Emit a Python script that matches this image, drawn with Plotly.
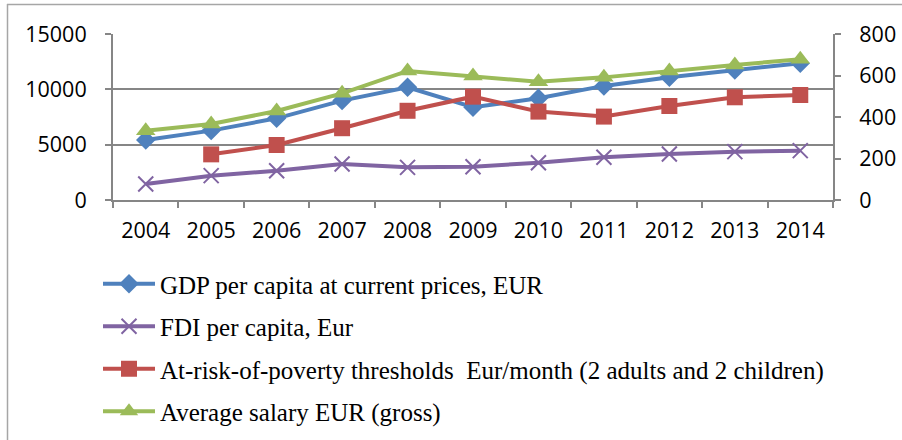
import plotly.graph_objects as go

years = ["2004", "2005", "2006", "2007", "2008", "2009", "2010", "2011", "2012", "2013", "2014"]
gdp = [5420, 6270, 7380, 8980, 10190, 8380, 9190, 10310, 11090, 11750, 12360]
fdi = [1450, 2200, 2650, 3250, 2950, 3010, 3370, 3860, 4160, 4370, 4460]
poverty = [None, 220, 265, 346, 430, 498, 426, 402, 453, 495, 506]
salary = [334, 366, 429, 514, 622, 598, 570, 591, 622, 651, 678]

names = [
    "GDP per capita at current prices, EUR",
    "FDI per capita, Eur",
    "At-risk-of-poverty thresholds  Eur/month (2 adults and 2 children)",
    "Average salary EUR (gross)",
]

W, H = 902, 440
L, R, T, B = 113, 833, 34, 200

fig = go.Figure()
fig.add_trace(go.Scatter(x=years, y=gdp, name=names[0], mode="lines+markers", legendgroup="a",
                         line=dict(color="#4F81BD", width=4),
                         marker=dict(symbol="diamond", size=15, color="#4F81BD")))
fig.add_trace(go.Scatter(x=years, y=fdi, name=names[1], mode="lines+markers", legendgroup="b",
                         line=dict(color="#8064A2", width=4),
                         marker=dict(symbol="x-thin", size=15, color="#8064A2",
                                     line=dict(color="#8064A2", width=2))))
fig.add_trace(go.Scatter(x=years, y=poverty, name=names[2], mode="lines+markers", yaxis="y2",
                         legendgroup="c",
                         line=dict(color="#C0504D", width=4),
                         marker=dict(symbol="square", size=16, color="#C0504D")))
fig.add_trace(go.Scatter(x=years, y=salary, name=names[3], mode="lines+markers", yaxis="y2",
                         legendgroup="d",
                         line=dict(color="#9BBB59", width=4),
                         marker=dict(symbol="triangle-up", size=17, color="#9BBB59")))

axis_col = "#868686"
tickfont = dict(family="Open Sans", size=21.5, color="#000000")

fig.update_layout(
    width=W, height=H,
    margin=dict(l=L, r=W - R, t=T, b=H - B, pad=0, autoexpand=False),
    paper_bgcolor="white", plot_bgcolor="white",
    showlegend=True,
    legend=dict(xref="container", yref="container", x=98 / W, y=1 - 261 / H,
                xanchor="left", yanchor="top",
                font=dict(family="Liberation Serif", size=25, color="#000000"),
                tracegroupgap=7, itemwidth=52, bgcolor="rgba(0,0,0,0)",
                traceorder="grouped"),
    xaxis=dict(type="category", range=[-0.5, 10.5], showgrid=False, automargin=False,
               showline=True, linecolor=axis_col, linewidth=2,
               ticks="outside", tickson="boundaries", ticklen=6, tickcolor=axis_col, tickwidth=2,
               tickfont=tickfont, ticklabelstandoff=10),
    yaxis=dict(range=[0, 15000], tickvals=[0, 5000, 10000, 15000], automargin=False,
               showgrid=True, gridcolor=axis_col, gridwidth=2,
               showline=True, linecolor=axis_col, linewidth=2, zeroline=False,
               ticks="outside", ticklen=6, tickcolor=axis_col, tickwidth=2,
               tickfont=tickfont, ticklabelstandoff=14, tickformat="d"),
    yaxis2=dict(range=[0, 800], tickvals=[0, 200, 400, 600, 800], overlaying="y", side="right",
                automargin=False,
                showgrid=False, showline=True, linecolor=axis_col, linewidth=2, zeroline=False,
                ticks="outside", ticklen=6, tickcolor=axis_col, tickwidth=2,
                tickfont=tickfont, ticklabelstandoff=14),
)

def px_x(px):
    return (px - L) / (R - L)

def px_y(py):
    return (B - py) / (B - T)

frame = dict(color="#A6A6A6", width=1.5)
fig.add_shape(type="line", xref="paper", yref="paper", x0=px_x(7), x1=px_x(905),
              y0=px_y(4.5), y1=px_y(4.5), line=frame)
fig.add_shape(type="line", xref="paper", yref="paper", x0=px_x(7.5), x1=px_x(7.5),
              y0=px_y(4), y1=px_y(445), line=frame)

fig.write_html("out.html", config={"displayModeBar": False},
               post_script="document.body.style.margin='0';document.body.style.overflow='hidden';")
